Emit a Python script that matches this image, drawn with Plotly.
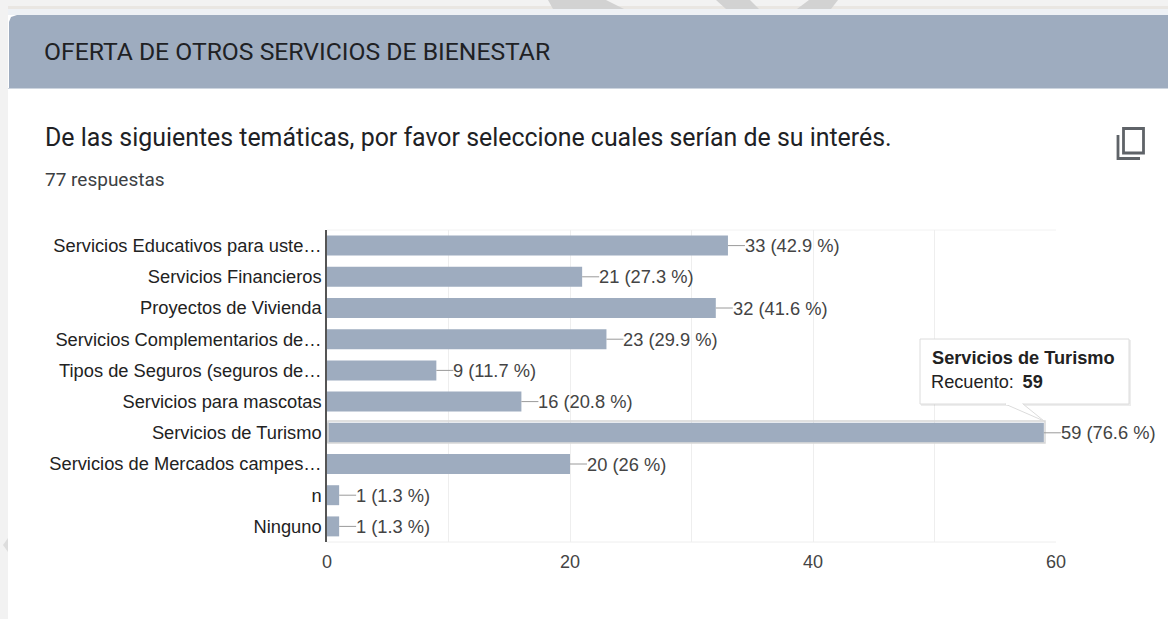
import plotly.graph_objects as go

categories = ["Servicios Educativos para uste…", "Servicios Financieros", "Proyectos de Vivienda",
              "Servicios Complementarios de…", "Tipos de Seguros (seguros de…", "Servicios para mascotas",
              "Servicios de Turismo", "Servicios de Mercados campes…", "n", "Ninguno"]
counts = [33, 21, 32, 23, 9, 16, 59, 20, 1, 1]
percents = ["42.9", "27.3", "41.6", "29.9", "11.7", "20.8", "76.6", "26", "1.3", "1.3"]
x_ticks = [0, 20, 40, 60]
highlighted = "Servicios de Turismo"
header = "OFERTA DE OTROS SERVICIOS DE BIENESTAR"
question = "De las siguientes temáticas, por favor seleccione cuales serían de su interés."
responses = "77 respuestas"

W, H = 1168, 619
BAR = "#9eacbf"
ARIAL = "Liberation Sans, Arial, sans-serif"
px = lambda x: x / W
py = lambda y: 1 - y / H


def rect(x0, y0, x1, y1, fill, line=None, width=1, layer="below"):
    return dict(type="rect", xref="paper", yref="paper", x0=px(x0), x1=px(x1), y0=py(y0), y1=py(y1),
                fillcolor=fill, line=dict(color=line or fill, width=width if line else 0), layer=layer)


def path(pts, fill, line=None, width=1, layer="below", close=True):
    d = "M " + " L ".join(f"{px(x):.5f},{py(y):.5f}" for x, y in pts) + (" Z" if close else "")
    return dict(type="path", xref="paper", yref="paper", path=d, fillcolor=fill,
                line=dict(color=line or fill, width=width if line else 0), layer=layer)


fig = go.Figure(go.Bar(
    x=counts, y=categories, orientation="h", width=0.64,
    marker=dict(color=BAR, line=dict(width=0)), showlegend=False, hoverinfo="skip"))

annotations = []
for c, v, p in zip(categories, counts, percents):
    annotations.append(dict(x=v, y=c, xref="x", yref="y", ax=17, ay=0, axref="pixel", ayref="pixel",
                            text=f"{v} ({p} %)", xanchor="left", showarrow=True, arrowhead=0, arrowwidth=1,
                            arrowcolor="#9a9a9a", standoff=0, borderpad=0, borderwidth=0,
                            font=dict(family=ARIAL, size=18.3, color="#444444")))

txt = lambda x, y, s, size, color, fam: dict(xref="paper", yref="paper", x=px(x), y=py(y), text=s, showarrow=False,
                                             xanchor="left", yanchor="middle", font=dict(family=fam, size=size, color=color))
annotations += [
    txt(42, 52, header, 24.7, "#202124", "Roboto, sans-serif"),
    txt(43, 137.5, question, 24.9, "#202124", "Roboto, sans-serif"),
    txt(43, 180, responses, 19, "#3c4043", "Roboto, sans-serif"),
    txt(930, 358, f"<b>{highlighted}</b>", 18.2, "#222222", ARIAL),
    txt(929, 382, f"Recuento:\u2009 <b>{counts[categories.index(highlighted)]}</b>", 18.2, "#222222", ARIAL),
]

shapes = [
    rect(0, 0, W, H, "#f2f2f2"),
    rect(8, 6, W, 9, "#e9e6e2"),
    path([(548, 0), (606, 0), (624, 9), (553, 9)], "#d2d2d2"),
    path([(716, 0), (750, 0), (759, 9), (726, 9)], "#d2d2d2"),
    path([(809, 0), (838, 0), (831, 9), (797, 9)], "#d2d2d2"),
    path([(3, 545), (8, 538), (8, 552)], "#dddddd"),
    rect(8, 9, W, H, "#ffffff"),
    rect(8, 9, W, 15, "#eef1f5"),
    path([(9, 88), (9, 22), (11, 17), (17, 15), (W, 15), (W, 88)], BAR),
    rect(8, 88, W, 89, "#cdd5df"),
    # copy icon
    rect(1123.5, 128.5, 1143.5, 153, "rgba(0,0,0,0)", "#5f6368", 2.8),
    path([(1118, 135), (1118, 158.5), (1140, 158.5)], "rgba(0,0,0,0)", "#5f6368", 2.8, close=False),
    # highlighted bar halo
    rect(328, 421, 1045, 443, "rgba(0,0,0,0)", "#d6d6d6", 1.5, "above"),
    # tooltip
    rect(921, 340, 1131, 406, "rgba(0,0,0,0.07)", layer="above"),
    rect(920, 339, 1129, 404, "#ffffff", "#dcdcdc", 1, "above"),
    path([(1005, 404), (1044, 421), (1023, 404)], "#ffffff", "#dcdcdc", 1, "above", close=False),
    rect(1006, 402.5, 1022, 405, "#ffffff", layer="above"),
]

fig.update_layout(
    width=W, height=H, margin=dict(l=0, r=0, t=0, b=0, autoexpand=False), paper_bgcolor="#ffffff",
    plot_bgcolor="rgba(0,0,0,0)",
    bargap=0.36, shapes=shapes, annotations=annotations, hovermode=False,
    xaxis=dict(domain=[px(327), px(1056)], range=[0, 60], tickvals=list(range(0, 61, 10)),
               ticktext=[str(t) if t in x_ticks else "" for t in range(0, 61, 10)],
               showgrid=True, gridcolor="#eeeeee", gridwidth=1, zeroline=False, showline=False, ticks="",
               tickfont=dict(family=ARIAL, size=18, color="#444444"), ticklabelstandoff=7),
    yaxis=dict(domain=[py(542), py(230)], autorange=False, range=[len(categories) - 0.5, -0.5],
               categoryorder="array", categoryarray=categories, type="category",
               showgrid=False, zeroline=False, showline=True, linecolor="#555555", linewidth=1.5, ticks="",
               tickfont=dict(family=ARIAL, size=18.3, color="#222222"), ticklabelstandoff=0),
)
fig.add_shape(type="line", xref="paper", yref="paper", x0=px(327), x1=px(1056), y0=py(230), y1=py(230),
              line=dict(color="#f2f2f2", width=1), layer="below")
fig.add_shape(type="line", xref="paper", yref="paper", x0=px(327), x1=px(1056), y0=py(542), y1=py(542),
              line=dict(color="#eeeeee", width=1), layer="below")
fig.write_html("out.html", config=dict(displayModeBar=False),
               post_script="document.body.style.margin='0';document.body.style.overflow='hidden';")
